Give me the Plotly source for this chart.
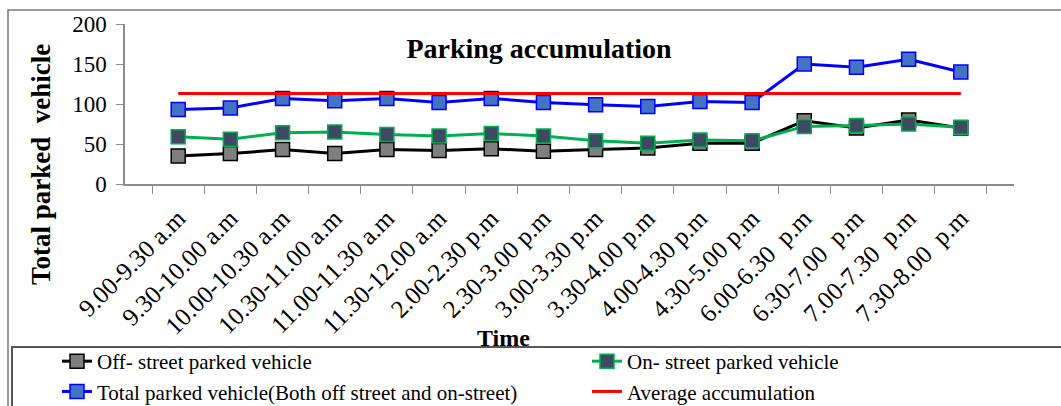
import plotly.graph_objects as go

time_slots = ["9.00-9.30 a.m", "9.30-10.00 a.m", "10.00-10.30 a.m", "10.30-11.00 a.m",
              "11.00-11.30 a.m", "11.30-12.00 a.m", "2.00-2.30 p.m", "2.30-3.00 p.m",
              "3.00-3.30 p.m", "3.30-4.00 p.m", "4.00-4.30 p.m", "4.30-5.00 p.m",
              "6.00-6.30  p.m", "6.30-7.00  p.m", "7.00-7.30  p.m", "7.30-8.00  p.m"]
off_street = [35, 38, 43, 38, 43, 42, 44, 41, 43, 45, 51, 51, 79, 70, 80, 70]
on_street = [59, 56, 64, 65, 62, 60, 63, 60, 54, 51, 55, 54, 72, 73, 75, 71]
total_parked = [93, 95, 107, 104, 107, 102, 107, 102, 99, 97, 103, 102, 150, 146, 156, 140]
average_accumulation = [113] * 16

FONT = "Liberation Serif"
W, H = 1061, 406
ML, MR, MT, MB = 125, 47, 24, 222
PW, PH = W - ML - MR, H - MT - MB

def px_x(p):
    return (p - ML) / PW

def px_y(p):
    return (H - MB - p) / PH

fig = go.Figure()
fig.add_trace(go.Scatter(x=time_slots, y=off_street, name="Off- street parked vehicle",
                         mode="lines+markers", line=dict(color="#000000", width=3),
                         marker=dict(symbol="square", size=14, color="#7f7f7f",
                                     line=dict(color="#000000", width=1.5)),
                         legend="legend", legendgroup="g1"))
fig.add_trace(go.Scatter(x=time_slots, y=on_street, name="On- street parked vehicle",
                         mode="lines+markers", line=dict(color="#00b050", width=3),
                         marker=dict(symbol="square", size=14, color="#3e4a61",
                                     line=dict(color="#00b050", width=1.5)),
                         legend="legend2", legendgroup="g2"))
fig.add_trace(go.Scatter(x=time_slots, y=total_parked,
                         name="Total parked vehicle(Both off street and on-street)",
                         mode="lines+markers", line=dict(color="#0000ff", width=3),
                         marker=dict(symbol="square", size=14, color="#4472c4",
                                     line=dict(color="#0000ff", width=1.5)),
                         legend="legend", legendgroup="g3"))
fig.add_trace(go.Scatter(x=time_slots, y=average_accumulation, name="Average accumulation",
                         mode="lines", line=dict(color="#ff0000", width=3),
                         legend="legend2", legendgroup="g4"))

legend_common = dict(orientation="v", xanchor="left", yanchor="top", traceorder="grouped",
                     font=dict(family=FONT, size=21, color="#000"),
                     bgcolor="rgba(0,0,0,0)", borderwidth=0, tracegroupgap=0)
fig.update_layout(
    width=W, height=H,
    margin=dict(l=ML, r=MR, t=MT, b=MB, autoexpand=False),
    paper_bgcolor="white", plot_bgcolor="white",
    font=dict(family=FONT, color="#000"),
    title=dict(text="<b>Parking accumulation</b>", font=dict(family=FONT, size=28, color="#000"),
               xref="paper", yref="paper", x=px_x(539), y=px_y(48),
               xanchor="center", yanchor="middle"),
    xaxis=dict(type="category", showgrid=False, showline=True, linecolor="#8c8c8c", linewidth=1.5,
               ticks="outside", tickson="boundaries", ticklen=8, tickcolor="#8c8c8c",
               tickangle=-45, ticklabelstandoff=8,
               tickfont=dict(family=FONT, size=25, color="#000")),
    yaxis=dict(range=[0, 200], dtick=50, showgrid=False, showline=True, linecolor="#8c8c8c",
               linewidth=1.5, ticks="outside", ticklen=7, tickcolor="#8c8c8c", zeroline=False,
               ticklabelstandoff=5, tickfont=dict(family=FONT, size=23, color="#000")),
    legend=dict(x=px_x(57), y=px_y(341), **legend_common),
    legend2=dict(x=px_x(587), y=px_y(341), **legend_common),
    showlegend=True,
)

fig.add_annotation(text="<b>Total parked  vehicle</b>", textangle=-90, xref="paper", yref="paper",
                   x=px_x(41), y=px_y(165), showarrow=False, xanchor="center", yanchor="middle",
                   font=dict(family=FONT, size=27, color="#000"))
fig.add_annotation(text="<b>Time</b>", xref="paper", yref="paper", x=px_x(503), y=px_y(338),
                   showarrow=False, xanchor="center", yanchor="middle",
                   font=dict(family=FONT, size=24, color="#000"))

# outer chart frame and legend box
fig.add_shape(type="rect", xref="paper", yref="paper", x0=px_x(8), x1=px_x(1080),
              y0=px_y(430), y1=px_y(10), line=dict(color="#7a7a7a", width=1.5), layer="below")
fig.add_shape(type="rect", xref="paper", yref="paper", x0=px_x(12), x1=px_x(1080),
              y0=px_y(430), y1=px_y(347), line=dict(color="#555555", width=2), layer="below")

fig.write_html("out.html")
